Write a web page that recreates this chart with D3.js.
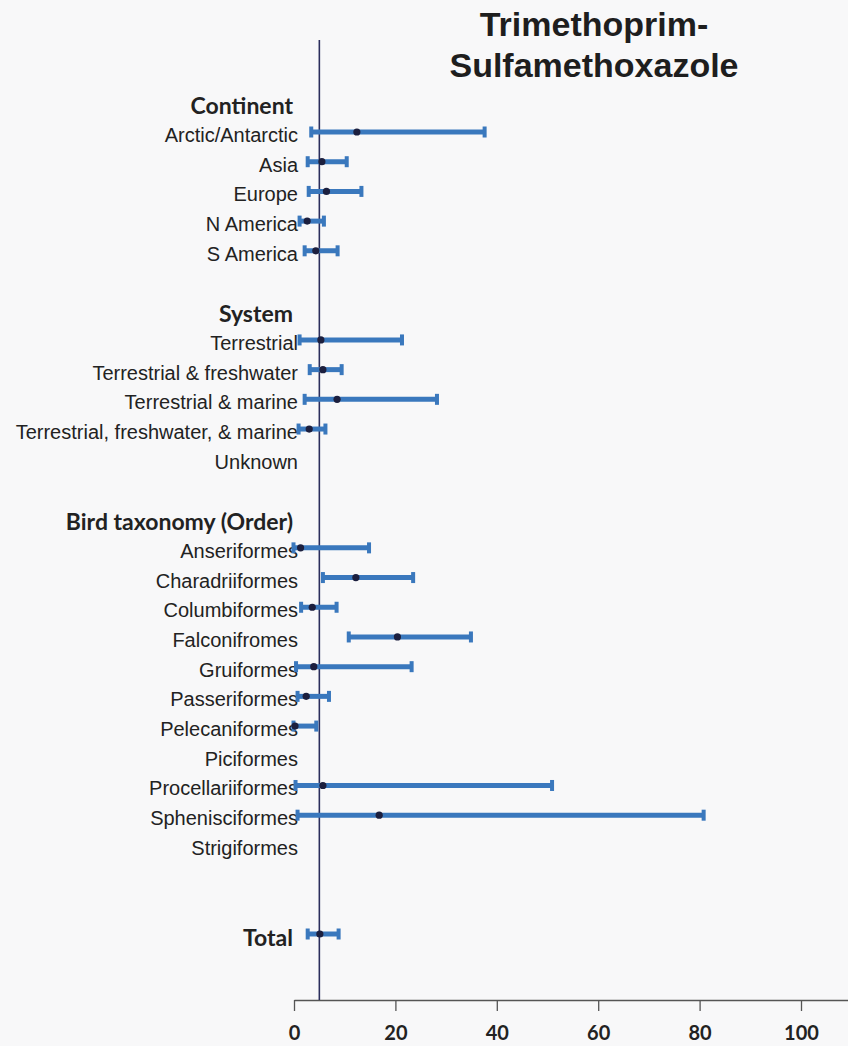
<!DOCTYPE html>
<html>
<head>
<meta charset="utf-8">
<script src="https://cdn.jsdelivr.net/npm/d3@7"></script>
<style>
  html, body { margin: 0; padding: 0; background: #f8f8f9; }
  svg { display: block; }
</style>
</head>
<body>
<svg id="chart" width="848" height="1046"></svg>
<script>
// Row layout: section headers, categories and spacer rows, top to bottom
const rowLabels = [
  "Continent", "Arctic/Antarctic", "Asia", "Europe", "N America", "S America", "",
  "System", "Terrestrial", "Terrestrial & freshwater", "Terrestrial & marine",
  "Terrestrial, freshwater, & marine", "Unknown", "",
  "Bird taxonomy (Order)", "Anseriformes", "Charadriiformes", "Columbiformes",
  "Falconifromes", "Gruiformes", "Passeriformes", "Pelecaniformes", "Piciformes",
  "Procellariiformes", "Sphenisciformes", "Strigiformes", "", "", "Total"
];
const headerLabels = ["Continent", "System", "Bird taxonomy (Order)", "Total"];

// Prevalence (%) estimates with lower / upper confidence limits
const categories = [
  "Arctic/Antarctic", "Asia", "Europe", "N America", "S America",
  "Terrestrial", "Terrestrial & freshwater", "Terrestrial & marine",
  "Terrestrial, freshwater, & marine", "Unknown",
  "Anseriformes", "Charadriiformes", "Columbiformes", "Falconifromes", "Gruiformes",
  "Passeriformes", "Pelecaniformes", "Piciformes", "Procellariiformes",
  "Sphenisciformes", "Strigiformes", "Total"
];
const estimate = [12.4, 5.5, 6.4, 2.6, 4.3, 5.3, 5.7, 8.5, 3.0, null,
  1.3, 12.2, 3.6, 20.4, 3.9, 2.4, 0.2, null, 5.7, 16.8, null, 5.1];
const lower = [3.5, 2.8, 3.0, 1.2, 2.2, 1.2, 3.2, 2.2, 1.0, null,
  0.0, 5.8, 1.5, 10.9, 0.5, 0.8, 0.0, null, 0.4, 0.8, null, 2.8];
const upper = [37.5, 10.3, 13.2, 5.8, 8.5, 21.2, 9.3, 28.1, 6.1, null,
  14.7, 23.4, 8.3, 34.8, 23.1, 6.8, 4.3, null, 50.8, 80.7, null, 8.7];

const tickValues = [0, 20, 40, 60, 80, 100];
const referenceValue = 5;
const title = ["Trimethoprim-", "Sulfamethoxazole"];

const svg = d3.select("#chart");
const axisY = 1000;

// axis runs past the last labelled tick to the right edge
const x = d3.scaleLinear().domain([0, 120]).range([294, 902.4]);
const y = d3.scalePoint().domain(d3.range(rowLabels.length)).range([102.3, 934]);

// Title
svg.append("text")
  .attr("x", 594).attr("text-anchor", "middle")
  .style("font-family", "'Liberation Sans', Arial, sans-serif")
  .style("font-weight", "bold").style("font-size", "34px").attr("fill", "#1e1e1e")
  .selectAll("tspan").data(title).join("tspan")
  .attr("x", 594).attr("y", (d, i) => 36 + i * 41).text(d => d);

// Row labels
const labelG = svg.append("g");
rowLabels.forEach((lab, i) => {
  if (!lab) return;
  const isHeader = headerLabels.includes(lab);
  labelG.append("text")
    .attr("x", isHeader ? 293 : 298)
    .attr("y", y(i) + 3)
    .attr("dominant-baseline", "central")
    .attr("text-anchor", "end")
    .attr("fill", "#222")
    .style("font-family", isHeader ? "Lato, 'Open Sans', sans-serif" : "'Liberation Sans', Arial, sans-serif")
    .style("font-weight", isHeader ? "bold" : "normal")
    .style("font-size", isHeader ? "23px" : "20px")
    .text(lab);
});

// X axis
const axis = svg.append("g")
  .attr("transform", `translate(0,${axisY})`)
  .call(d3.axisBottom(x).tickValues(tickValues).tickSize(11).tickSizeOuter(0).tickPadding(15));
axis.select(".domain").attr("stroke", "#555").attr("stroke-width", 1.3);
axis.selectAll(".tick line").attr("stroke", "#555").attr("stroke-width", 1.3);
axis.selectAll(".tick text")
  .attr("fill", "#222")
  .style("font-family", "Lato, 'Open Sans', sans-serif")
  .style("font-weight", "bold").style("font-size", "20px");

// Reference line
svg.append("line")
  .attr("x1", x(referenceValue)).attr("x2", x(referenceValue))
  .attr("y1", 40).attr("y2", axisY)
  .attr("stroke", "#2b2e5c").attr("stroke-width", 1.6);

// Confidence intervals and point estimates
const data = categories.map((c, i) => ({
  cat: c, est: estimate[i], lo: lower[i], hi: upper[i], row: rowLabels.indexOf(c)
})).filter(d => d.est != null);

const blue = "#3a78bd";
const g = svg.append("g");
g.selectAll("line.ci").data(data).join("line")
  .attr("class", "ci")
  .attr("x1", d => x(d.lo)).attr("x2", d => x(d.hi))
  .attr("y1", d => y(d.row)).attr("y2", d => y(d.row))
  .attr("stroke", blue).attr("stroke-width", 5);
g.selectAll("rect.capL").data(data).join("rect")
  .attr("class", "capL")
  .attr("x", d => x(d.lo) - 2.5).attr("y", d => y(d.row) - 5.5)
  .attr("width", 4).attr("height", 11).attr("fill", blue);
g.selectAll("rect.capR").data(data).join("rect")
  .attr("class", "capR")
  .attr("x", d => x(d.hi) - 1.5).attr("y", d => y(d.row) - 5.5)
  .attr("width", 4).attr("height", 11).attr("fill", blue);
g.selectAll("circle.est").data(data).join("circle")
  .attr("class", "est")
  .attr("cx", d => x(d.est)).attr("cy", d => y(d.row))
  .attr("r", 3.6).attr("fill", "#1c1f3e");
</script>
</body>
</html>
